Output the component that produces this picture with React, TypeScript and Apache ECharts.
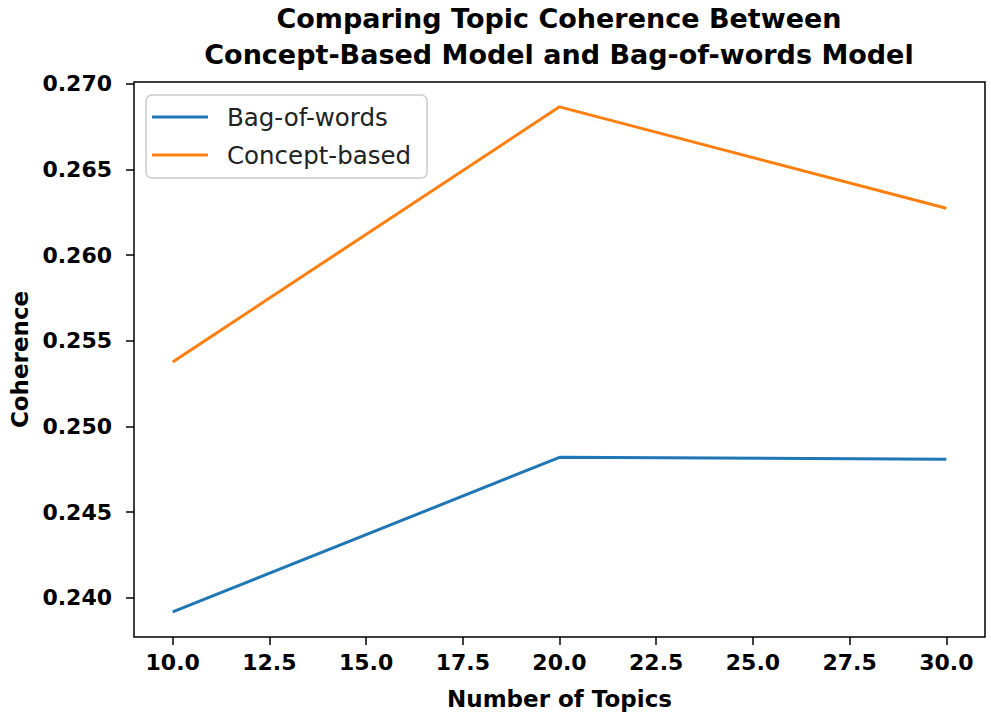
import React, { useEffect, useRef } from "react";
import * as echarts from "echarts";

const topics = [10, 20, 30];
const bagOfWords = [0.23918, 0.2482, 0.24809];
const conceptBased = [0.25377, 0.26865, 0.26273];
const xTicks = [10, 12.5, 15, 17.5, 20, 22.5, 25, 27.5, 30];
const yTicks = [0.24, 0.245, 0.25, 0.255, 0.26, 0.265, 0.27];
const seriesNames = ["Bag-of-words", "Concept-based"];
const titleLines = ["Comparing Topic Coherence Between", "Concept-Based Model and Bag-of-words Model"];

const FONT = "DejaVu Sans";

export default function App() {
  const ref = useRef<HTMLDivElement>(null);
  useEffect(() => {
    if (!ref.current) return;
    const chart = echarts.init(ref.current, null, { renderer: "svg" });
    const toPairs = (vals: number[]) => topics.map((t, i) => [t, vals[i]]);
    chart.setOption({
      animation: false,
      backgroundColor: "#ffffff",
      textStyle: { fontFamily: FONT },
      graphic: [
        {
          type: "text",
          left: 559 - 400,
          top: 0,
          style: {
            text: titleLines.join("\n"),
            x: 400,
            y: 0,
            width: 800,
            align: "center",
            textAlign: "center",
            font: `bold 27px '${FONT}'`,
            lineHeight: 36,
            fill: "#000",
          },
        },
      ],
      grid: {
        left: 133,
        right: 6,
        top: 82,
        bottom: 83,
        show: true,
        borderColor: "#000",
        borderWidth: 1.5,
        backgroundColor: "transparent",
      },
      legend: {
        orient: "vertical",
        left: 146,
        top: 95,
        data: seriesNames,
        icon: "rect",
        itemWidth: 56,
        itemHeight: 3,
        itemGap: 10,
        padding: [8, 16, 9, 6],
        backgroundColor: "rgba(255,255,255,0.8)",
        borderColor: "#cccccc",
        borderWidth: 1.5,
        borderRadius: 6,
        textStyle: {
          fontFamily: FONT,
          fontSize: 24.5,
          lineHeight: 28,
          color: "#222",
          padding: [0, 0, 0, 14],
        },
      },
      xAxis: {
        type: "value",
        min: 9,
        max: 31,
        name: "Number of Topics",
        nameLocation: "middle",
        nameGap: 50,
        nameTextStyle: { fontFamily: FONT, fontSize: 23, fontWeight: "bold", color: "#000" },
        axisLine: { show: false },
        splitLine: { show: false },
        axisTick: {
          show: true,
          length: 8,
          lineStyle: { color: "#000", width: 1.5 },
          customValues: xTicks,
        },
        axisLabel: {
          fontFamily: FONT,
          fontSize: 22,
          fontWeight: "bold",
          color: "#000",
          margin: 14,
          customValues: xTicks,
          formatter: (v: number) => v.toFixed(1),
        },
      },
      yAxis: {
        type: "value",
        min: 0.23772,
        max: 0.2701,
        name: "Coherence",
        nameLocation: "middle",
        nameGap: 103,
        nameRotate: 90,
        nameTextStyle: { fontFamily: FONT, fontSize: 23, fontWeight: "bold", color: "#000" },
        axisLine: { show: false },
        splitLine: { show: false },
        axisTick: {
          show: true,
          length: 8,
          lineStyle: { color: "#000", width: 1.5 },
          customValues: yTicks,
        },
        axisLabel: {
          fontFamily: FONT,
          fontSize: 22,
          fontWeight: "bold",
          color: "#000",
          margin: 22,
          customValues: yTicks,
          formatter: (v: number) => v.toFixed(3),
        },
      },
      series: [
        {
          name: seriesNames[0],
          type: "line",
          data: toPairs(bagOfWords),
          symbol: "none",
          lineStyle: { color: "#1f77b4", width: 3 },
          itemStyle: { color: "#1f77b4" },
        },
        {
          name: seriesNames[1],
          type: "line",
          data: toPairs(conceptBased),
          symbol: "none",
          lineStyle: { color: "#ff7f0e", width: 3 },
          itemStyle: { color: "#ff7f0e" },
        },
      ],
    });
    return () => chart.dispose();
  }, []);
  return <div ref={ref} style={{ width: 991, height: 720, position: "absolute", left: 0, top: 0 }} />;
}
